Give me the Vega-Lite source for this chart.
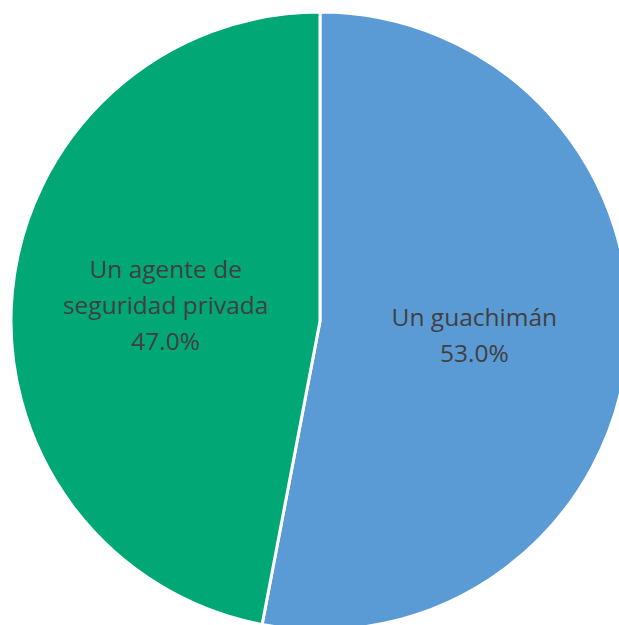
{
  "$schema": "https://vega.github.io/schema/vega-lite/v6.json",
  "width": 640,
  "height": 642,
  "autosize": {"type": "none"},
  "padding": 0,
  "background": "white",
  "data": {
    "values": [
      {"category": "Un guachimán", "value": 53.0},
      {"category": "Un agente de\nseguridad privada", "value": 47.0}
    ]
  },
  "transform": [
    {"calculate": "datum.category + '\\n' + format(datum.value, '.1f') + '%'", "as": "label"},
    {"stack": "value", "groupby": [], "sort": [{"field": "value", "order": "descending"}], "as": ["v0", "v1"]},
    {"calculate": "(datum.v0 + datum.v1) / 2", "as": "vmid"}
  ],
  "layer": [
    {
      "mark": {"type": "arc", "radius": 309, "stroke": "white", "strokeWidth": 3},
      "encoding": {
        "theta": {"field": "v0", "type": "quantitative", "scale": {"domain": [0, 100]}},
        "theta2": {"field": "v1"},
        "color": {
          "field": "category",
          "type": "nominal",
          "scale": {"domain": ["Un guachimán", "Un agente de\nseguridad privada"], "range": ["#5B9BD5", "#02A776"]},
          "legend": null
        }
      }
    },
    {
      "transform": [{"filter": "datum.category == 'Un guachimán'"}],
      "mark": {"type": "text", "radius": 155, "dy": -17, "fontSize": 24.5, "font": "Open Sans", "lineBreak": "\n", "lineHeight": 36, "baseline": "middle", "align": "center", "color": "#404040"},
      "encoding": {
        "theta": {"field": "vmid", "type": "quantitative", "scale": {"domain": [0, 100]}},
        "text": {"field": "label", "type": "nominal"}
      }
    },
    {
      "transform": [{"filter": "datum.category != 'Un guachimán'"}],
      "mark": {"type": "text", "radius": 155, "dy": -35, "fontSize": 24.5, "font": "Open Sans", "lineBreak": "\n", "lineHeight": 36, "baseline": "middle", "align": "center", "color": "#404040"},
      "encoding": {
        "theta": {"field": "vmid", "type": "quantitative", "scale": {"domain": [0, 100]}},
        "text": {"field": "label", "type": "nominal"}
      }
    }
  ]
}
